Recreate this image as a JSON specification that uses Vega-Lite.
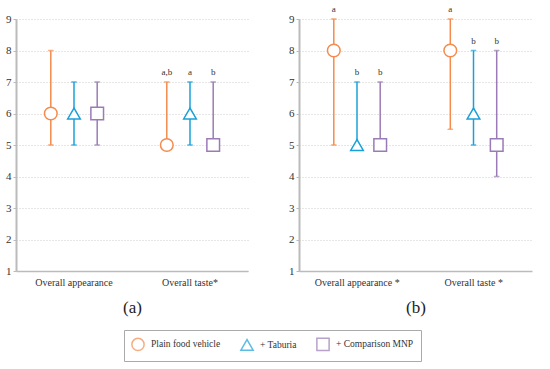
{
  "$schema": "https://vega.github.io/schema/vega-lite/v6.json",
  "padding": {"left": 5, "top": 5, "right": 5, "bottom": 5},
  "config": {
    "font": "Liberation Serif",
    "view": {"stroke": null},
    "axisY": {"domainColor": "#bbbbbb", "domainWidth": 2, "tickColor": "#bbbbbb", "tickSize": 3, "gridColor": "#cccccc", "gridDash": [1, 2], "labelFontSize": 11, "labelColor": "#333333", "values": [1, 2, 3, 4, 5, 6, 7, 8, 9], "title": null, "labelPadding": 2},
    "axisX": {"domainColor": "#bbbbbb", "domainWidth": 1.5, "ticks": false, "labelFontSize": 10, "labelColor": "#333333", "labelPadding": 6, "labelAngle": 0, "titleFontSize": 17, "titleFontWeight": "normal", "titleColor": "#222222", "titlePadding": 12, "grid": false},
    "legend": {"orient": "none", "legendX": 108, "legendY": 311, "direction": "horizontal", "columns": 3, "title": null, "strokeColor": "#aaaaaa", "padding": 7, "symbolSize": 150, "symbolStrokeWidth": 1.5, "symbolFillColor": "white", "labelFontSize": 9.5, "labelColor": "#333333", "columnPadding": 16, "labelOffset": 6}
  },
  "data": {"values": [
    {"panel": "a", "attribute": "Overall appearance", "series": "Plain food vehicle", "mean": 6, "low": 5, "high": 8, "letter": ""},
    {"panel": "a", "attribute": "Overall appearance", "series": "+ Taburia", "mean": 6, "low": 5, "high": 7, "letter": ""},
    {"panel": "a", "attribute": "Overall appearance", "series": "+ Comparison MNP", "mean": 6, "low": 5, "high": 7, "letter": ""},
    {"panel": "a", "attribute": "Overall taste*", "series": "Plain food vehicle", "mean": 5, "low": 5, "high": 7, "letter": "a,b"},
    {"panel": "a", "attribute": "Overall taste*", "series": "+ Taburia", "mean": 6, "low": 5, "high": 7, "letter": "a"},
    {"panel": "a", "attribute": "Overall taste*", "series": "+ Comparison MNP", "mean": 5, "low": 5, "high": 7, "letter": "b"},
    {"panel": "b", "attribute": "Overall appearance *", "series": "Plain food vehicle", "mean": 8, "low": 5, "high": 9, "letter": "a"},
    {"panel": "b", "attribute": "Overall appearance *", "series": "+ Taburia", "mean": 5, "low": 5, "high": 7, "letter": "b"},
    {"panel": "b", "attribute": "Overall appearance *", "series": "+ Comparison MNP", "mean": 5, "low": 5, "high": 7, "letter": "b"},
    {"panel": "b", "attribute": "Overall taste *", "series": "Plain food vehicle", "mean": 8, "low": 5.5, "high": 9, "letter": "a"},
    {"panel": "b", "attribute": "Overall taste *", "series": "+ Taburia", "mean": 6, "low": 5, "high": 8, "letter": "b"},
    {"panel": "b", "attribute": "Overall taste *", "series": "+ Comparison MNP", "mean": 5, "low": 4, "high": 8, "letter": "b"}
  ]},
  "spacing": 40,
  "hconcat": [
    {
      "width": 232, "height": 252,
      "transform": [{"filter": "datum.panel == 'a'"}],
      "encoding": {
        "x": {"field": "attribute", "type": "nominal", "sort": null, "scale": {"paddingInner": 0, "paddingOuter": 0}, "axis": {"title": "(a)"}},
        "xOffset": {"field": "series", "type": "nominal", "sort": ["Plain food vehicle", "+ Taburia", "+ Comparison MNP"], "scale": {"paddingInner": 0, "paddingOuter": 1}},
        "stroke": {"field": "series", "type": "nominal", "scale": {"domain": ["Plain food vehicle", "+ Taburia", "+ Comparison MNP"], "range": ["#F58B4C", "#1AA0D8", "#9B7BB5"]}}
      },
      "layer": [
        {"mark": {"type": "rule", "strokeWidth": 1.5}, "encoding": {"y": {"field": "low", "type": "quantitative", "scale": {"domain": [1, 9]}}, "y2": {"field": "high"}}},
        {"mark": {"type": "tick", "orient": "horizontal", "size": 5, "thickness": 0.5, "strokeWidth": 1, "fill": "white"}, "encoding": {"y": {"field": "low", "type": "quantitative"}}},
        {"mark": {"type": "tick", "orient": "horizontal", "size": 5, "thickness": 0.5, "strokeWidth": 1, "fill": "white"}, "encoding": {"y": {"field": "high", "type": "quantitative"}}},
        {"mark": {"type": "point", "filled": false, "fill": "white", "fillOpacity": 1, "opacity": 1, "size": 160, "strokeWidth": 1.5}, "encoding": {"y": {"field": "mean", "type": "quantitative"},
          "shape": {"field": "series", "type": "nominal", "scale": {"domain": ["Plain food vehicle", "+ Taburia", "+ Comparison MNP"], "range": ["circle", "triangle-up", "square"]}}}},
        {"mark": {"type": "text", "dy": -10, "fontSize": 9, "color": "#333333"}, "encoding": {"y": {"field": "high", "type": "quantitative"}, "text": {"field": "letter"}, "color": {"value": "#333333"}, "stroke": {"value": null}}}
      ]
    },
    {
      "width": 233, "height": 252,
      "transform": [{"filter": "datum.panel == 'b'"}],
      "encoding": {
        "x": {"field": "attribute", "type": "nominal", "sort": null, "scale": {"paddingInner": 0, "paddingOuter": 0}, "axis": {"title": "(b)"}},
        "xOffset": {"field": "series", "type": "nominal", "sort": ["Plain food vehicle", "+ Taburia", "+ Comparison MNP"], "scale": {"paddingInner": 0, "paddingOuter": 1}},
        "stroke": {"field": "series", "type": "nominal"}
      },
      "layer": [
        {"mark": {"type": "rule", "strokeWidth": 1.5}, "encoding": {"y": {"field": "low", "type": "quantitative", "scale": {"domain": [1, 9]}}, "y2": {"field": "high"}}},
        {"mark": {"type": "tick", "orient": "horizontal", "size": 5, "thickness": 0.5, "strokeWidth": 1, "fill": "white"}, "encoding": {"y": {"field": "low", "type": "quantitative"}}},
        {"mark": {"type": "tick", "orient": "horizontal", "size": 5, "thickness": 0.5, "strokeWidth": 1, "fill": "white"}, "encoding": {"y": {"field": "high", "type": "quantitative"}}},
        {"mark": {"type": "point", "filled": false, "fill": "white", "fillOpacity": 1, "opacity": 1, "size": 160, "strokeWidth": 1.5}, "encoding": {"y": {"field": "mean", "type": "quantitative"},
          "shape": {"field": "series", "type": "nominal"}}},
        {"mark": {"type": "text", "dy": -10, "fontSize": 9, "color": "#333333"}, "encoding": {"y": {"field": "high", "type": "quantitative"}, "text": {"field": "letter"}, "color": {"value": "#333333"}, "stroke": {"value": null}}}
      ]
    }
  ]
}
